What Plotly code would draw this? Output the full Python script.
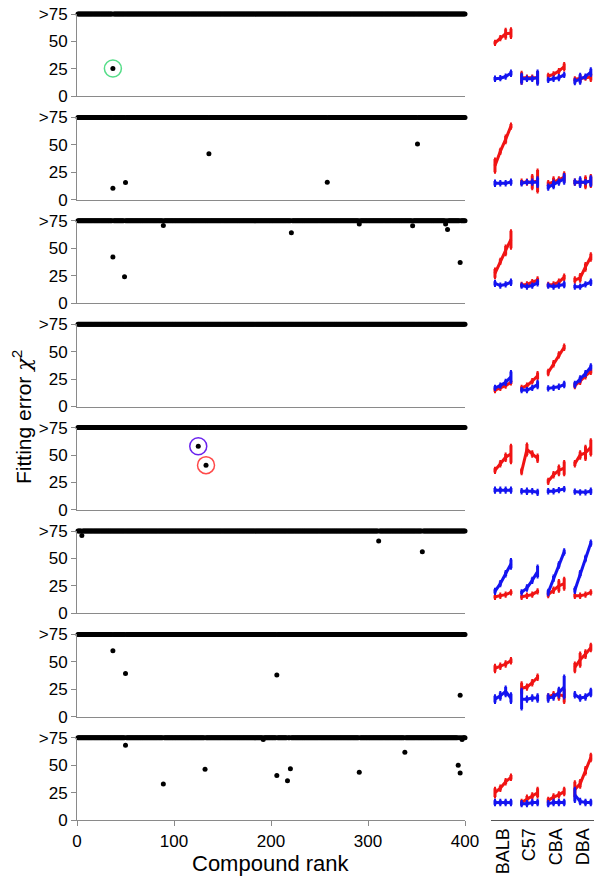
import plotly.graph_objects as go

W, H = 602, 884

# ---------------- data ----------------
all_ranks = list(range(1, 401))
cap_value = 75
x_tickvals = [0, 100, 200, 300, 400]
y_tickvals = [0, 25, 50, 75]
y_ticktext = ["0", "25", "50", ">75"]
strains = ["BALB", "C57", "CBA", "DBA"]

# outlier compounds (rank, fitting error) per row; all other ranks are capped at >75
row1_ranks = [37]
row1_vals = [25.3]
row2_ranks = [37, 50, 136, 258, 351]
row2_vals = [10.5, 15.7, 41.8, 16.0, 50.8]
row3_ranks = [37, 49, 89, 221, 291, 346, 380, 382, 395]
row3_vals = [42, 24, 70.8, 64.2, 72, 70.5, 72, 67, 37]
row4_ranks = []
row4_vals = []
row5_ranks = [125, 133]
row5_vals = [58, 40.8]
row6_ranks = [5, 311, 356]
row6_vals = [71, 66, 56]
row7_ranks = [37, 50, 206, 395]
row7_vals = [60, 39.3, 38, 19.5]
row8_ranks = [50, 89, 132, 192, 206, 217, 220, 291, 338, 393, 395, 397]
row8_vals = [68.3, 33, 46.4, 73.5, 40.7, 35.8, 46.7, 43.7, 61.9, 50, 43, 73.5]

# highlighted compounds: (row index, rank, value, colour)
highlight_rows = [0, 4, 4]
highlight_ranks = [37, 125, 133]
highlight_vals = [25.3, 58, 40.8]
highlight_colors = ["#55dd88", "#6a22ee", "#ff4a4a"]

# strain curves (4 points each), per row: [BALB, C57, CBA, DBA]
row1_red = [[48.6, 53, 57, 57.5], [17, 17, 17, 17], [18.5, 20, 23, 27], [15.5, 16, 17, 17.5]]
row1_red_err = [[1.5, 1.5, 4, 4], [5, 1.5, 1.5, 5], [1.5, 1.5, 1.5, 3], [1.5, 3, 1.5, 3]]
row1_blue = [[16, 16.5, 18, 21], [16, 16, 16, 17], [15, 16, 17, 19.5], [13.5, 16, 18, 22]]
row1_blue_err = [[1.5, 1.5, 1.5, 2], [4, 1.5, 1.5, 6], [1.5, 1.5, 2, 1.5], [2, 4, 1.5, 3]]

row2_red = [[31, 44, 55, 67], [16, 16, 16, 17], [14.5, 16, 18, 20.5], [16, 16, 16, 17]]
row2_red_err = [[6, 2, 3, 2], [2, 2, 6, 10], [2, 4, 2, 4], [2, 2, 5, 5]]
row2_blue = [[15, 15, 15, 16], [15, 16, 16, 16], [11.5, 14, 16, 19], [16, 16, 16, 17]]
row2_blue_err = [[2, 1.5, 1.5, 2], [1.5, 1.5, 2, 4], [2, 3, 2, 4], [2, 4, 1.5, 4]]

row3_red = [[27, 38, 48, 58], [16.6, 17, 19, 21], [16.6, 17, 19, 23.6], [21, 23, 33, 42]]
row3_red_err = [[4, 2, 4, 8], [1.5, 1.5, 1.5, 2], [1.5, 1.5, 2, 2], [2, 3, 3, 3]]
row3_blue = [[18, 16, 17, 19], [16, 15, 16, 18.5], [16, 15, 16, 17], [15, 15, 17, 19]]
row3_blue_err = [[2, 1.5, 1.5, 2], [1.5, 1.5, 1.5, 2], [1.5, 1.5, 1.5, 2], [1.5, 1.5, 1.5, 2]]

row4_red = [[15, 17, 19, 22], [17, 19, 23, 28], [31, 39, 47, 54], [19, 23, 28, 32]]
row4_red_err = [[1.5, 1.5, 1.5, 1.5], [1.5, 1.5, 1.5, 3], [2, 2, 2, 2], [2, 2, 2, 2]]
row4_blue = [[17, 19, 22, 27], [15, 15, 17, 20], [16.5, 17, 18, 20], [20, 25, 30, 36]]
row4_blue_err = [[1.5, 1.5, 2, 5], [1.5, 1.5, 1.5, 3], [1.5, 1.5, 1.5, 2], [2, 2, 2, 2]]

row5_red = [[36, 42, 48, 51], [35, 55, 51, 47], [26, 32, 36, 38], [42, 50, 52, 57]]
row5_red_err = [[2, 2, 3, 8], [2, 5, 2, 3], [2, 2, 4, 6], [2, 3, 6, 7]]
row5_blue = [[18, 18, 18, 18], [17, 17, 17, 16], [17, 17, 18, 19], [16.6, 16, 16, 17]]
row5_blue_err = [[2, 2, 2, 2], [1.5, 2, 1.5, 2], [1.5, 1.5, 1.5, 1.5], [1.5, 1.5, 1.5, 2]]

row6_red = [[15, 16, 17, 19], [15, 16, 17, 20], [17, 21, 25, 27], [16, 16, 17, 19]]
row6_red_err = [[1.5, 1.5, 1.5, 1.5], [1.5, 1.5, 1.5, 1.5], [2, 2, 5, 5], [1.5, 1.5, 1.5, 1.5]]
row6_blue = [[20, 27, 36, 45], [19, 23, 30, 38], [19, 32, 44, 56], [21, 36, 50, 64]]
row6_blue_err = [[2, 2, 2, 4], [1.5, 2, 2, 5], [2, 2, 2, 2], [2, 2, 2, 2]]

row7_red = [[44, 46, 48, 51], [26, 27, 31, 36], [18, 20, 20, 19], [45, 52, 57, 63]]
row7_red_err = [[3, 2, 2, 2], [5, 2, 2, 2], [2, 2, 4, 6], [4, 6, 3, 3]]
row7_blue = [[16, 19, 23, 17], [16, 16, 17, 17], [17, 18, 22, 27], [20, 17, 18, 22]]
row7_blue_err = [[3, 3, 4, 4], [9, 2, 2, 3], [3, 2, 4, 10], [2, 2, 2, 3]]

row8_red = [[25, 29, 35, 39], [16, 19, 22, 25], [18, 21, 23, 26], [28, 33, 45, 57]]
row8_red_err = [[4, 2, 2, 2], [2, 3, 2, 4], [2, 2, 2, 3], [7, 3, 3, 3]]
row8_blue = [[16, 16, 16, 16], [15, 15, 16, 16], [15, 16, 16, 16], [23, 17, 16, 16]]
row8_blue_err = [[2, 2, 2, 2], [2, 2, 2, 2], [2, 2, 2, 2], [6, 2, 2, 2]]

# ---------------- assembly ----------------
rows_ranks = [row1_ranks, row2_ranks, row3_ranks, row4_ranks, row5_ranks, row6_ranks, row7_ranks, row8_ranks]
rows_vals = [row1_vals, row2_vals, row3_vals, row4_vals, row5_vals, row6_vals, row7_vals, row8_vals]
rows_red = [row1_red, row2_red, row3_red, row4_red, row5_red, row6_red, row7_red, row8_red]
rows_red_err = [row1_red_err, row2_red_err, row3_red_err, row4_red_err, row5_red_err, row6_red_err, row7_red_err, row8_red_err]
rows_blue = [row1_blue, row2_blue, row3_blue, row4_blue, row5_blue, row6_blue, row7_blue, row8_blue]
rows_blue_err = [row1_blue_err, row2_blue_err, row3_blue_err, row4_blue_err, row5_blue_err, row6_blue_err, row7_blue_err, row8_blue_err]

FONT = "Arial, Liberation Sans, sans-serif"
AXC = "#8a8a8a"
RED = "#f01414"
BLUE = "#1414f0"

fig = go.Figure()
layout = {}

LEFT_X = [77 / W, 465 / W]
RIGHT_X = [491 / W, 594 / W]
PITCH = 103.4
TOP0 = 14.0
PH = 82.3

for k in range(8):
    top = TOP0 + PITCH * k
    bot = top + PH
    ydom = [1 - bot / H, 1 - top / H]
    nl = 2 * k + 1
    nr = 2 * k + 2
    xl = "x" if nl == 1 else f"x{nl}"
    yl = "y" if nl == 1 else f"y{nl}"
    xr, yr = f"x{nr}", f"y{nr}"

    last = k == 7
    layout["xaxis" if nl == 1 else f"xaxis{nl}"] = dict(
        domain=LEFT_X, range=[0, 400], anchor=yl, showline=True, linecolor=AXC, linewidth=1,
        showgrid=False, zeroline=False, fixedrange=True, automargin=False,
        ticks="outside" if last else "", ticklen=5, tickcolor=AXC,
        tickvals=x_tickvals, showticklabels=last,
        tickfont=dict(family=FONT, size=17, color="black"))
    layout["yaxis" if nl == 1 else f"yaxis{nl}"] = dict(
        domain=ydom, range=[0, 75], anchor=xl, showline=True, linecolor=AXC, linewidth=1,
        showgrid=False, zeroline=False, ticks="outside", ticklen=5, tickcolor=AXC,
        tickvals=y_tickvals, ticktext=y_ticktext, automargin=False, fixedrange=True,
        tickfont=dict(family=FONT, size=17, color="black"))
    layout[f"xaxis{nr}"] = dict(
        domain=RIGHT_X, range=[-0.75, 18.6], anchor=yr, showline=last, linecolor="#555555",
        linewidth=1, showgrid=False, zeroline=False, ticks="", automargin=False, fixedrange=True,
        tickvals=[5 * g + 1.5 for g in range(4)], ticktext=strains, tickangle=-90,
        showticklabels=last, tickfont=dict(family=FONT, size=18, color="black"))
    layout[f"yaxis{nr}"] = dict(
        domain=ydom, range=[0, 75], anchor=xr, visible=False, showgrid=False,
        zeroline=False, automargin=False, fixedrange=True)

    # capped compounds (>75)
    outl = set(rows_ranks[k])
    capped = [r for r in all_ranks if r not in outl]
    fig.add_trace(go.Scatter(
        x=capped, y=[cap_value] * len(capped), mode="markers", xaxis=xl, yaxis=yl,
        marker=dict(size=5, color="black"), cliponaxis=False, showlegend=False, hoverinfo="skip"))
    fig.add_trace(go.Scatter(
        x=rows_ranks[k], y=rows_vals[k], mode="markers", xaxis=xl, yaxis=yl,
        marker=dict(size=5, color="black"), cliponaxis=False, showlegend=False))

    # highlighted rings
    for hr, hx, hv, hc in zip(highlight_rows, highlight_ranks, highlight_vals, highlight_colors):
        if hr == k:
            fig.add_trace(go.Scatter(
                x=[hx], y=[hv], mode="markers", xaxis=xl, yaxis=yl,
                marker=dict(size=17, symbol="circle-open", color=hc, line=dict(width=1.5, color=hc)),
                showlegend=False, cliponaxis=False))

    # strain curves
    for g in range(4):
        xs = [5 * g + i for i in range(4)]
        for vals, errs, col in ((rows_red[k][g], rows_red_err[k][g], RED),
                                (rows_blue[k][g], rows_blue_err[k][g], BLUE)):
            fig.add_trace(go.Scatter(
                x=xs, y=vals, mode="lines", xaxis=xr, yaxis=yr,
                line=dict(color=col, width=3),
                error_y=dict(type="data", array=errs, visible=True, color=col, thickness=3, width=1),
                showlegend=False, cliponaxis=False))

layout.update(dict(
    width=W, height=H, autosize=False,
    margin=dict(l=0, r=0, t=0, b=0),
    paper_bgcolor="white", plot_bgcolor="white",
    font=dict(family=FONT, color="black"),
    showlegend=False,
    annotations=[
        dict(text="Compound rank", x=271 / W, y=1 - 863 / H, xref="paper", yref="paper",
             showarrow=False, font=dict(family=FONT, size=22, color="black"),
             xanchor="center", yanchor="middle"),
        dict(text="Fitting error <span style=\"font-family:'DejaVu Serif'\"><i>χ</i></span><sup>2</sup>",
             x=22 / W, y=1 - 417 / H, xref="paper", yref="paper",
             showarrow=False, textangle=-90, font=dict(family=FONT, size=21, color="black"),
             xanchor="center", yanchor="middle"),
    ],
))
fig.update_layout(**layout)

fig.write_html(
    "out.html",
    config={"displayModeBar": False, "staticPlot": True},
    post_script="document.body.style.margin='0';document.body.style.padding='0';"
                "document.documentElement.style.overflow='hidden';",
)
